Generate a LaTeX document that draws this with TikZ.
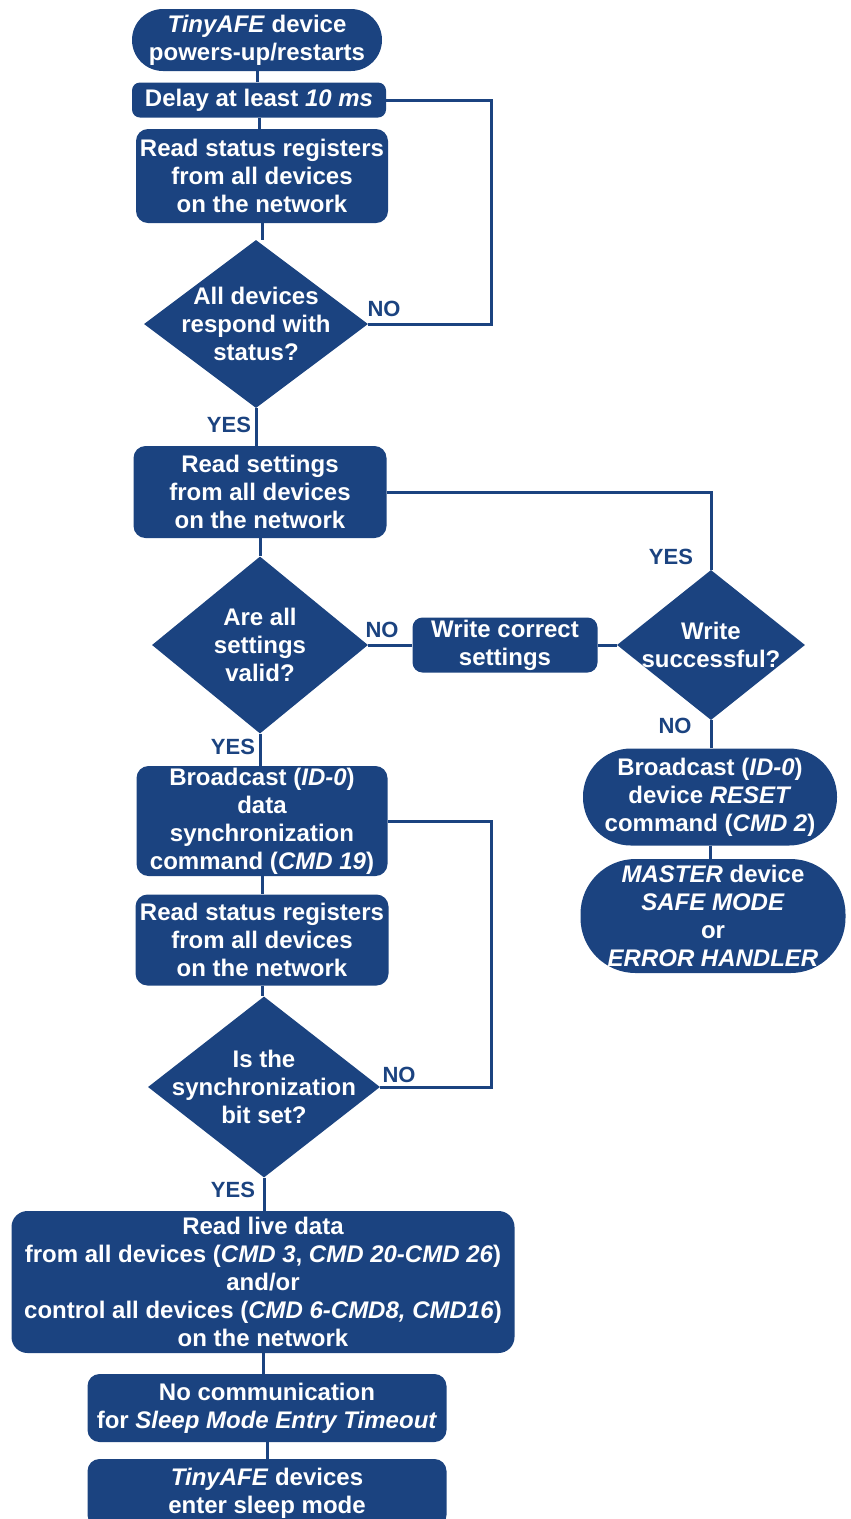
\documentclass[tikz,border=0pt]{standalone}
\usepackage{fontspec}
\setmainfont{Liberation Sans}
\usepackage{tikz}
\usetikzlibrary{calc, shapes.geometric}
\definecolor{afeblue}{RGB}{27,67,128}

\begin{document}
\begin{tikzpicture}[x=1pt, y=-1pt,
    box/.style={
      rectangle,
      fill=afeblue,
      text=white,
      font=\fontsize{24}{28}\selectfont\bfseries,
      align=center,
      inner sep=0pt,
      rounded corners=12pt
    },
    decision/.style={
      diamond,
      fill=afeblue,
      inner sep=0pt
    },
    dtext/.style={
      text=white,
      font=\fontsize{24}{28}\selectfont\bfseries,
      align=center,
      inner sep=0pt
    },
    answer/.style={
      text=afeblue,
      font=\fontsize{22}{26}\selectfont\bfseries,
      inner sep=0pt
    },
    flow/.style={draw=afeblue, line width=3pt}]
  \useasboundingbox (0,0) rectangle (851,1519);

  \node[box, rounded corners=31pt, minimum width=250, minimum height=62] (start) at (257,40)
    {\textit{TinyAFE} device\\powers-up/restarts};
  \node[box, rounded corners=8pt, minimum width=254, minimum height=35] (delay) at (259,100)
    {Delay at least \textit{10 ms}};
  \node[box, minimum width=252, minimum height=94] (rdstat) at (262,176)
    {Read status registers\\from all devices\\on the network};
  \node[decision, minimum width=224, minimum height=168] (dec1) at (256,324) {};
  \node[dtext] (dec1t) at (dec1) {All devices\\respond with\\status?};
  \node[box, minimum width=253, minimum height=92] (rdset) at (260,492)
    {Read settings\\from all devices\\on the network};
  \node[decision, minimum width=216, minimum height=177] (dec2) at (260,645) {};
  \node[dtext] (dec2t) at (dec2) {Are all\\settings\\valid?};
  \node[box, rounded corners=10pt, minimum width=185, minimum height=55] (wrcor) at (505,645)
    {Write correct\\settings};
  \node[decision, minimum width=188, minimum height=150] (dec3) at (711,645) {};
  \node[dtext] (dec3t) at (dec3) {Write\\successful?};
  \node[box, rounded corners=48pt, minimum width=254, minimum height=97] (rst) at (710,797)
    {Broadcast (\textit{ID-0})\\device \textit{RESET}\\command (\textit{CMD 2})};
  \node[box, rounded corners=55pt, minimum width=265, minimum height=114] (safe) at (713,916)
    {\textit{MASTER} device\\\textit{SAFE MODE}\\or\\\textit{ERROR HANDLER}};
  \node[box, minimum width=251, minimum height=110] (sync) at (262,821)
    {Broadcast (\textit{ID-0})\\data\\synchronization\\command (\textit{CMD 19})};
  \node[box, minimum width=253, minimum height=91] (rdstat2) at (262,940)
    {Read status registers\\from all devices\\on the network};
  \node[decision, minimum width=232, minimum height=181] (dec4) at (264,1087) {};
  \node[dtext] (dec4t) at (dec4) {Is the\\synchronization\\bit set?};
  \node[box, rounded corners=16pt, minimum width=503, minimum height=142] (live) at (263,1282)
    {Read live data\\from all devices (\textit{CMD 3}, \textit{CMD 20-CMD 26})\\and/or\\control all devices (\textit{CMD 6-CMD8, CMD16})\\on the network};
  \node[box, minimum width=359, minimum height=68] (nocom) at (267,1408)
    {No communication\\for \textit{Sleep Mode Entry Timeout}};
  \node[box, minimum width=359, minimum height=68] (sleep) at (267,1493)
    {\textit{TinyAFE} devices\\enter sleep mode};

  \node[answer] (no1) at (384,309) {NO};
  \node[answer] (yes1) at (229,425) {YES};
  \node[answer] (no2) at (382,630) {NO};
  \node[answer] (yes2) at (671,557) {YES};
  \node[answer] (no3) at (675,726) {NO};
  \node[answer] (yes3) at (233,747) {YES};
  \node[answer] (no4) at (399,1075) {NO};
  \node[answer] (yes4) at (233,1190) {YES};

  \coordinate (ret1) at (491,322);
  \coordinate (ret2) at (491,1085);

  \foreach \a/\b in {start/delay, delay/rdstat, rdstat/dec1, dec1/rdset, rdset/dec2,
      dec2/sync, sync/rdstat2, rdstat2/dec4, dec4/live, live/nocom, nocom/sleep,
      dec3/rst, rst/safe}
    \draw[flow] (\a.south) -- (\a.south |- \b.north);
  \draw[flow] (dec1.east) -- (dec1.east -| ret1) |- (delay.east);
  \draw[flow] (rdset.east) -| (dec3.north);
  \draw[flow] (dec2.east) -- (wrcor.west);
  \draw[flow] (wrcor.east) -- (dec3.west);
  \draw[flow] (dec4.east) -- (dec4.east -| ret2) |- (sync.east);
\end{tikzpicture}
\end{document}
